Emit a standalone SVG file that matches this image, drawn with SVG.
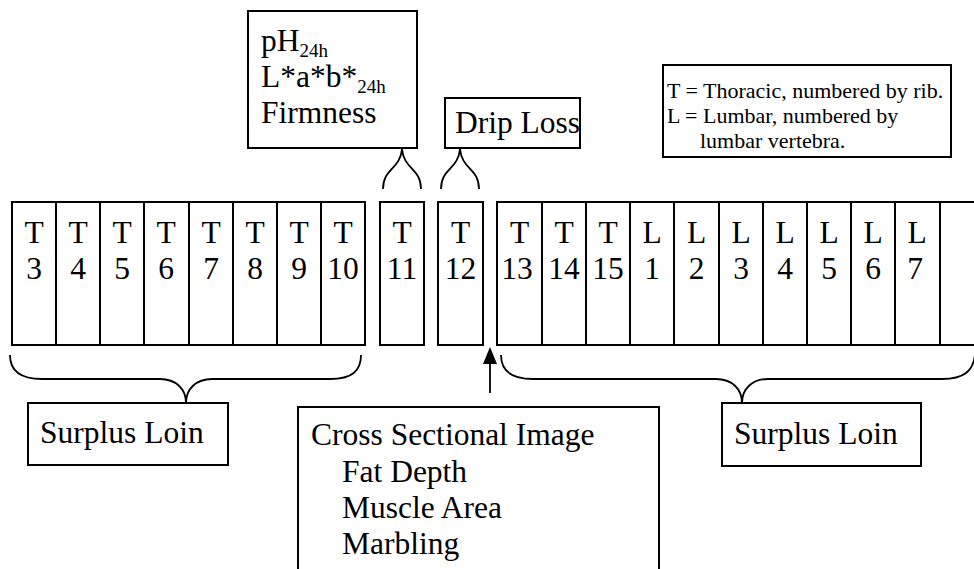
<svg xmlns="http://www.w3.org/2000/svg" width="974" height="569" viewBox="0 0 974 569">
<style>
.box{fill:#fff;stroke:#000;stroke-width:2}
.t{font-family:"Liberation Serif","Times New Roman",serif;font-size:31.5px;fill:#000}
.c{text-anchor:middle}
.s{font-size:19px}
.lg{font-family:"Liberation Serif","Times New Roman",serif;font-size:22px;fill:#000}
.br{fill:none;stroke:#000;stroke-width:1.8}
.dv{stroke:#000;stroke-width:2}
</style>
<rect width="974" height="569" fill="#fff"/>

<g id="tests">
<rect class="box" x="248" y="11" width="169" height="137"/>
<text class="t" x="261" y="51">pH<tspan class="s" dy="6">24h</tspan></text>
<text class="t" x="261" y="87">L*a*b*<tspan class="s" dy="6">24h</tspan></text>
<text class="t" x="261" y="123">Firmness</text>
</g>

<g id="drip">
<rect class="box" x="445" y="98" width="135" height="50"/>
<text class="t" x="455" y="133">Drip Loss</text>
</g>

<g id="legend">
<rect class="box" x="663" y="65" width="288" height="92"/>
<text class="lg" x="667" y="98">T = Thoracic, numbered by rib.</text>
<text class="lg" x="667" y="123">L = Lumbar, numbered by</text>
<text class="lg" x="700" y="148">lumbar vertebra.</text>
</g>

<g id="loin-left">
<rect class="box" x="12" y="202" width="353" height="143"/>
<line class="dv" x1="56" y1="202" x2="56" y2="345"/>
<line class="dv" x1="100" y1="202" x2="100" y2="345"/>
<line class="dv" x1="144" y1="202" x2="144" y2="345"/>
<line class="dv" x1="189" y1="202" x2="189" y2="345"/>
<line class="dv" x1="233" y1="202" x2="233" y2="345"/>
<line class="dv" x1="277" y1="202" x2="277" y2="345"/>
<line class="dv" x1="321" y1="202" x2="321" y2="345"/>
<text class="t c" x="34" y="243">T</text><text class="t c" x="34" y="279">3</text>
<text class="t c" x="78" y="243">T</text><text class="t c" x="78" y="279">4</text>
<text class="t c" x="122" y="243">T</text><text class="t c" x="122" y="279">5</text>
<text class="t c" x="166" y="243">T</text><text class="t c" x="166" y="279">6</text>
<text class="t c" x="211" y="243">T</text><text class="t c" x="211" y="279">7</text>
<text class="t c" x="255" y="243">T</text><text class="t c" x="255" y="279">8</text>
<text class="t c" x="299" y="243">T</text><text class="t c" x="299" y="279">9</text>
<text class="t c" x="343" y="243">T</text><text class="t c" x="343" y="279">10</text>
</g>

<g id="t11">
<rect class="box" x="380" y="202" width="44" height="143"/>
<text class="t c" x="402" y="243">T</text><text class="t c" x="402" y="279">11</text>
</g>

<g id="t12">
<rect class="box" x="438" y="202" width="45" height="143"/>
<text class="t c" x="460.5" y="243">T</text><text class="t c" x="460.5" y="279">12</text>
</g>

<g id="loin-right">
<rect class="box" x="497" y="202" width="500" height="143"/>
<line class="dv" x1="542" y1="202" x2="542" y2="345"/>
<line class="dv" x1="586" y1="202" x2="586" y2="345"/>
<line class="dv" x1="630" y1="202" x2="630" y2="345"/>
<line class="dv" x1="674" y1="202" x2="674" y2="345"/>
<line class="dv" x1="719" y1="202" x2="719" y2="345"/>
<line class="dv" x1="763" y1="202" x2="763" y2="345"/>
<line class="dv" x1="807" y1="202" x2="807" y2="345"/>
<line class="dv" x1="851" y1="202" x2="851" y2="345"/>
<line class="dv" x1="895" y1="202" x2="895" y2="345"/>
<line class="dv" x1="940" y1="202" x2="940" y2="345"/>
<text class="t c" x="519.5" y="243">T</text><text class="t c" x="517" y="279">13</text>
<text class="t c" x="564" y="243">T</text><text class="t c" x="564" y="279">14</text>
<text class="t c" x="608" y="243">T</text><text class="t c" x="608" y="279">15</text>
<text class="t c" x="652" y="243">L</text><text class="t c" x="652" y="279">1</text>
<text class="t c" x="696.5" y="243">L</text><text class="t c" x="696.5" y="279">2</text>
<text class="t c" x="741" y="243">L</text><text class="t c" x="741" y="279">3</text>
<text class="t c" x="785" y="243">L</text><text class="t c" x="785" y="279">4</text>
<text class="t c" x="829" y="243">L</text><text class="t c" x="829" y="279">5</text>
<text class="t c" x="873" y="243">L</text><text class="t c" x="873" y="279">6</text>
<text class="t c" x="917" y="243">L</text><text class="t c" x="915" y="279">7</text>
</g>

<g id="surplus-left">
<rect class="box" x="28" y="403" width="200" height="62"/>
<text class="t" x="40" y="443">Surplus Loin</text>
</g>

<g id="surplus-right">
<rect class="box" x="722" y="403" width="199" height="63"/>
<text class="t" x="734" y="444">Surplus Loin</text>
</g>

<g id="cross-section">
<rect class="box" x="298" y="407" width="361" height="180"/>
<text class="t" x="311" y="445">Cross Sectional Image</text>
<text class="t" x="342" y="482">Fat Depth</text>
<text class="t" x="342" y="518">Muscle Area</text>
<text class="t" x="342" y="554">Marbling</text>
</g>

<g id="connectors">
<path class="br" d="M383,189 C383,168 400,170 402,149 C404,170 421,168 421,189"/>
<path class="br" d="M441,189 C441,168 458,170 460,149 C462,170 479,168 479,189"/>
<path class="br" d="M10,355 C10,371 20,379 42,379 L160,379 C176,379 186,389 186,403 C186,389 196,379 212,379 L330,379 C352,379 361,371 361,355"/>
<path class="br" d="M501,355 C501,371 511,379 533,379 L716,379 C732,379 742,389 742,403 C742,389 752,379 768,379 L942,379 C964,379 973,371 975,355"/>
<line x1="490" y1="393" x2="490" y2="362" stroke="#000" stroke-width="1.8"/>
<polygon points="490,347 483,364 497,364" fill="#000"/>
</g>
</svg>
